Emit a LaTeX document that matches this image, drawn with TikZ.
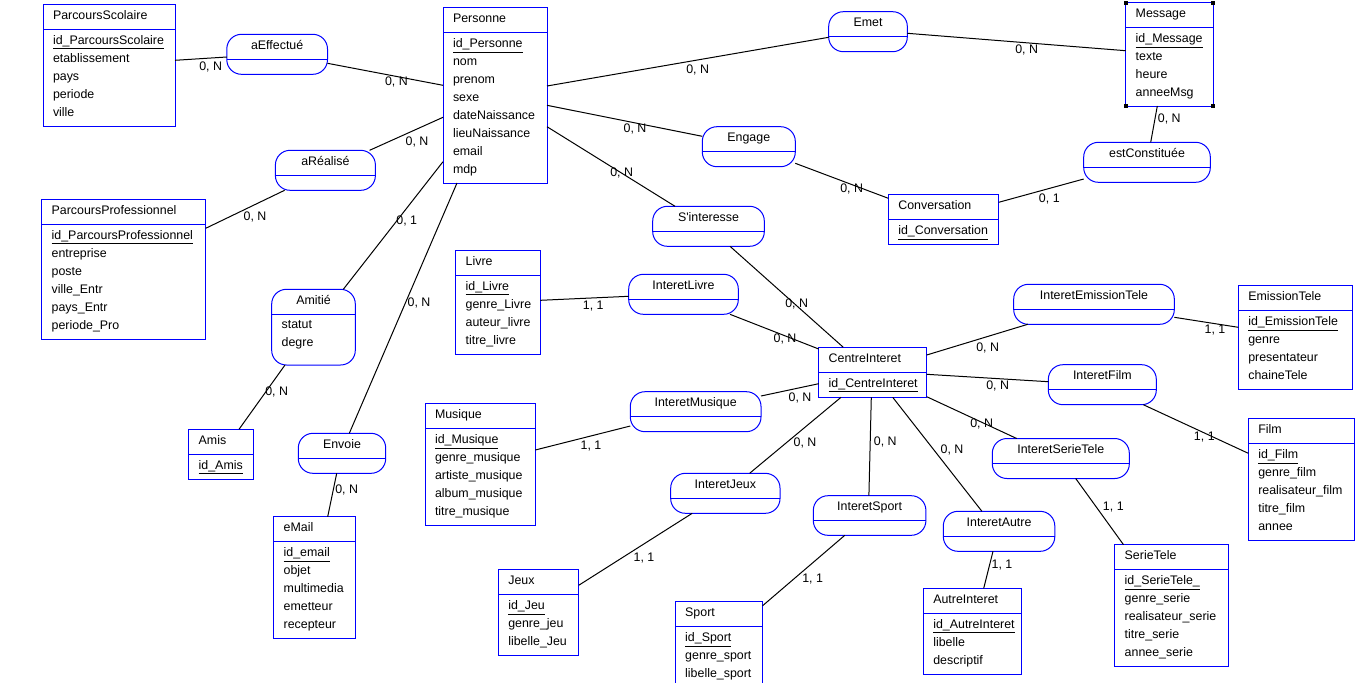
\documentclass[tikz,border=0pt]{standalone}
\usepackage{fontspec}
\newfontfamily\erfont{Liberation Sans}
\definecolor{erblue}{RGB}{0,0,255}
\tikzset{
  ent/.style={draw=erblue, line width=0.75pt, anchor=north west, inner sep=0pt, outer sep=0pt, rectangle},
  rel/.style={ent, rounded corners=11pt},
  entline/.style={draw=erblue, line width=0.75pt},
  txt/.style={anchor=base west, inner sep=0pt, outer sep=0pt, font=\erfont\fontsize{9.3}{11}\selectfont},
  ttl/.style={anchor=base, inner sep=0pt, outer sep=0pt, font=\erfont\fontsize{9.3}{11}\selectfont},
  card/.style={inner sep=0pt, font=\erfont\fontsize{9.3}{11}\selectfont},
  link/.style={line width=0.75pt, black},
  uline/.style={line width=0.75pt, black}
}
% name, x, y, w, h, title, id, attributes
\newcommand{\entity}[8]{%
  \node[ent, minimum width=#4*0.75pt, minimum height=#5*0.75pt] (#1) at (#2,#3) {};
  \draw[entline] (#2,#3+25) -- (#2+#4,#3+25);
  \node[txt] at (#2+10,#3+15) {#6};
  \node[txt] (#1-id) at (#2+10,#3+40) {#7};
  \draw[uline] ([yshift=-3.4pt]#1-id.base west) -- ([yshift=-3.4pt]#1-id.base east);
  \foreach \attrname [count=\i] in {#8} {\node[txt] at (#2+10,#3+40+18*\i) {\attrname};}
}
% name, x, y, w, h, title
\newcommand{\relation}[6]{%
  \node[rel, minimum width=#4*0.75pt, minimum height=#5*0.75pt] (#1) at (#2,#3) {};
  \draw[entline] (#2,#3+25) -- (#2+#4,#3+25);
  \node[ttl] at (#2+#4/2,#3+15) {#6};
}
\begin{document}
\begin{tikzpicture}[x=0.75pt,y=-0.75pt]
\clip (0,0) rectangle (1358,682);
% entities
\entity{ps}{43}{4}{132}{122}{ParcoursScolaire}{id\_ParcoursScolaire}{etablissement,pays,periode,ville}
\entity{pe}{443}{7.5}{104}{175.5}{Personne}{id\_Personne}{nom,prenom,sexe,dateNaissance,lieuNaissance,email,mdp}
\entity{msg}{1125.7}{2.7}{87.6}{103.3}{Message}{id\_Message}{texte,heure,anneeMsg}
\entity{pp}{41.7}{199.3}{164}{140}{ParcoursProfessionnel}{id\_ParcoursProfessionnel}{entreprise,poste,ville\_Entr,pays\_Entr,periode\_Pro}
\entity{conv}{888.3}{194.7}{110.4}{49.6}{Conversation}{id\_Conversation}{}
\entity{liv}{455.7}{250.3}{84.6}{104}{Livre}{id\_Livre}{genre\_Livre,auteur\_livre,titre\_livre}
\entity{ci}{818.7}{347.3}{108}{50}{CentreInteret}{id\_CentreInteret}{}
\entity{emt}{1238.3}{285.7}{114}{103.3}{EmissionTele}{id\_EmissionTele}{genre,presentateur,chaineTele}
\entity{film}{1248.3}{418.7}{106}{121.3}{Film}{id\_Film}{genre\_film,realisateur\_film,titre\_film,annee}
\entity{mus}{425}{403.7}{110.3}{121.6}{Musique}{id\_Musique}{genre\_musique,artiste\_musique,album\_musique,titre\_musique}
\entity{amis}{188.7}{429.3}{64.6}{50}{Amis}{id\_Amis}{}
\entity{mail}{273.7}{516.7}{81.6}{121.6}{eMail}{id\_email}{objet,multimedia,emetteur,recepteur}
\entity{jeux}{498.3}{569.7}{80.4}{85.6}{Jeux}{id\_Jeu}{genre\_jeu,libelle\_Jeu}
\entity{sport}{675.2}{601.7}{87.4}{100}{Sport}{id\_Sport}{genre\_sport,libelle\_sport}
\entity{ai}{923.3}{588.3}{98.6}{85.7}{AutreInteret}{id\_AutreInteret}{libelle,descriptif}
\entity{st}{1114.7}{544.7}{113.6}{121.6}{SerieTele}{id\_SerieTele\_}{genre\_serie,realisateur\_serie,titre\_serie,annee\_serie}
% selection markers on Message
\foreach \c in {north west,north east,south west,south east}
  \fill[black] (msg.\c) +(-2,-2) rectangle +(2,2);
% relations
\relation{aeff}{226.8}{34.3}{100.7}{40}{aEffectué}
\relation{emet}{828.7}{11.7}{78.6}{40}{Emet}
\relation{area}{275.4}{150.3}{100}{40}{aRéalisé}
\relation{eng}{702.3}{126.7}{93}{40}{Engage}
\relation{estc}{1083.7}{142.3}{126.6}{40}{estConstituée}
\relation{sint}{652.7}{206.3}{111.6}{40}{S'interesse}
\relation{ami}{271.7}{289.3}{83.6}{75.7}{Amitié}
\node[txt] at (281.7,328.8) {statut};
\node[txt] at (281.7,346.8) {degre};
\relation{il}{628.7}{274.3}{109.6}{40}{InteretLivre}
\relation{iet}{1013.7}{284.3}{160.6}{40}{InteretEmissionTele}
\relation{ifi}{1048.3}{364.7}{108}{40}{InteretFilm}
\relation{imu}{630.3}{391.7}{130.7}{40}{InteretMusique}
\relation{env}{298.3}{433.3}{87.4}{40}{Envoie}
\relation{ist}{992.3}{438.5}{137}{40}{InteretSerieTele}
\relation{ij}{670.7}{473.3}{109.3}{40}{InteretJeux}
\relation{isp}{813.3}{495.7}{112.6}{39.6}{InteretSport}
\relation{iau}{943.3}{511.3}{111.5}{40}{InteretAutre}
% connectors
\draw[link] (ps.east |- 0,60.3) -- (aeff.west |- 0,57);
\node[card] at (210.7,66.7) {0, N};
\draw[link] (aeff.east |- 0,63.3) -- (pe.west |- 0,85.3);
\node[card] at (396.4,81.7) {0, N};
\draw[link] (pe.east |- 0,86) -- (emet.west |- 0,37.3);
\node[card] at (697.7,70) {0, N};
\draw[link] (emet.east |- 0,33.3) -- (msg.west |- 0,50.7);
\node[card] at (1026.7,50) {0, N};
\draw[link] (pe.east |- 0,105.3) -- (eng.west |- 0,136.3);
\node[card] at (635,128.7) {0, N};
\draw[link] (eng.east |- 0,163.3) -- (conv.west |- 0,198.3);
\node[card] at (851.7,189) {0, N};
\draw[link] (conv.east |- 0,202.3) -- (estc.west |- 0,179);
\node[card] at (1049.3,199) {0, 1};
\draw[link] (msg.south -| 1157.3,0) -- (estc.north -| 1150.7,0);
\node[card] at (1169.3,119.3) {0, N};
\draw[link] (pe.east |- 0,126.7) -- (sint.north -| 675,0);
\node[card] at (621.7,173.3) {0, N};
\draw[link] (sint.south -| 730,0) -- (ci.north -| 843.3,0);
\node[card] at (796.7,304.3) {0, N};
\draw[link] (pe.west |- 0,117.3) -- (area.north -| 369.6,0);
\node[card] at (417,141.7) {0, N};
\draw[link] (area.south -| 284.6,0) -- (pp.east |- 0,228.3);
\node[card] at (255,216.7) {0, N};
\draw[link] (pe.west |- 0,161.7) -- (ami.north -| 343.3,0);
\node[card] at (406.7,221) {0, 1};
\draw[link] (ami.south -| 285,0) -- (amis.north -| 239,0);
\node[card] at (276.7,392.3) {0, N};
\draw[link] (pe.south -| 457,0) -- (env.north -| 349.3,0);
\node[card] at (419,303.3) {0, N};
\draw[link] (env.south -| 336.7,0) -- (mail.north -| 327.7,0);
\node[card] at (346.7,490) {0, N};
\draw[link] (liv.east |- 0,300.3) -- (il.west |- 0,296.3);
\node[card] at (593.3,305.7) {1, 1};
\draw[link] (il.south -| 730,0) -- (ci.west |- 0,349);
\node[card] at (785,339.3) {0, N};
\draw[link] (ci.east |- 0,355) -- (iet.south -| 1027.7,0);
\node[card] at (987.7,347.7) {0, N};
\draw[link] (iet.east |- 0,317.3) -- (emt.west |- 0,327.3);
\node[card] at (1215,330) {1, 1};
\draw[link] (ci.east |- 0,374.3) -- (ifi.west |- 0,381.7);
\node[card] at (997.7,385.7) {0, N};
\draw[link] (ifi.south -| 1143.3,0) -- (film.west |- 0,453.3);
\node[card] at (1204.3,436.7) {1, 1};
\draw[link] (ci.west |- 0,383.7) -- (imu.east |- 0,396);
\node[card] at (800,397.5) {0, N};
\draw[link] (imu.west |- 0,426) -- (mus.east |- 0,450);
\node[card] at (591,445.7) {1, 1};
\draw[link] (ci.east |- 0,396.7) -- (ist.north -| 1016.7,0);
\node[card] at (981.7,424.3) {0, N};
\draw[link] (ist.south -| 1075.7,0) -- (st.north -| 1123.5,0);
\node[card] at (1113.3,506.7) {1, 1};
\draw[link] (ci.south -| 841,0) -- (ij.north -| 749.6,0);
\node[card] at (805,442.5) {0, N};
\draw[link] (ij.south -| 692.2,0) -- (jeux.east |- 0,585.3);
\node[card] at (644,557.7) {1, 1};
\draw[link] (ci.south -| 871.3,0) -- (isp.north -| 868.9,0);
\node[card] at (885.3,441.5) {0, N};
\draw[link] (isp.south -| 844.8,0) -- (sport.east |- 0,605.7);
\node[card] at (812.6,579) {1, 1};
\draw[link] (ci.south -| 892.7,0) -- (iau.north -| 981.9,0);
\node[card] at (952,450) {0, N};
\draw[link] (iau.south -| 993,0) -- (ai.north -| 983.7,0);
\node[card] at (1002,565) {1, 1};
\end{tikzpicture}
\end{document}
